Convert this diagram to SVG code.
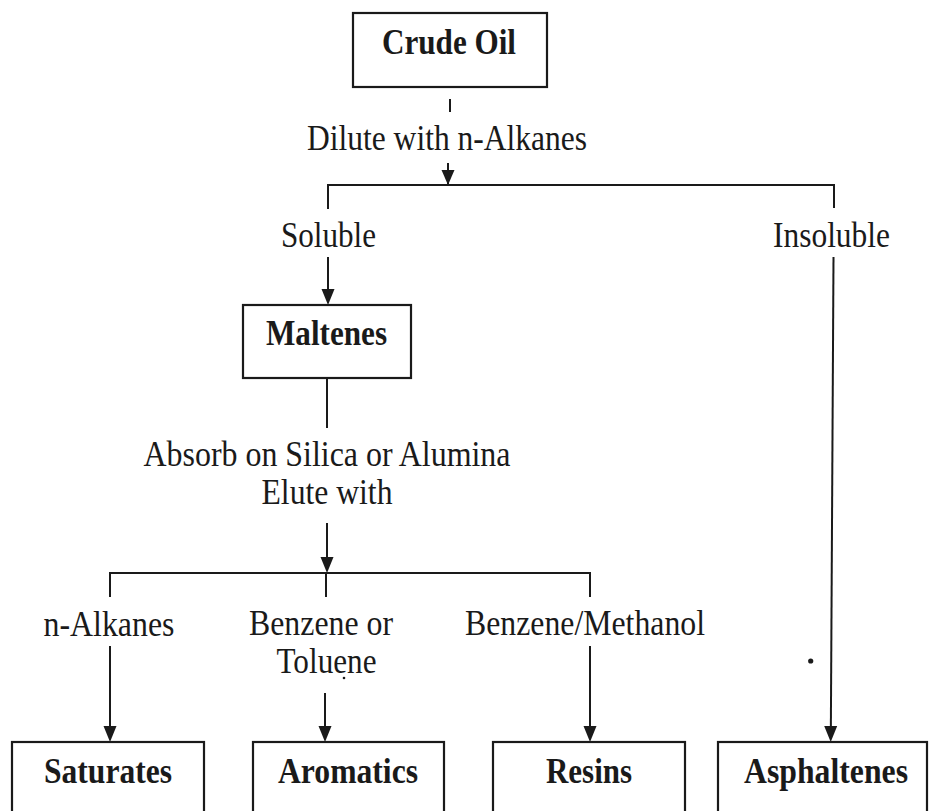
<svg xmlns="http://www.w3.org/2000/svg" width="929" height="811" viewBox="0 0 929 811">
<style>
  .box { fill: #ffffff; stroke: #1a1a1a; stroke-width: 2.2; }
  .lbl { font-family: "Liberation Serif", "Times New Roman", serif; font-size: 35px; fill: #1a1a1a; text-anchor: middle; }
  .bold { font-weight: bold; }
  .ln { stroke: #1a1a1a; stroke-width: 2; fill: none; }
  .head { fill: #1a1a1a; }
</style>
<rect width="929" height="811" fill="#ffffff"/>

<g id="connectors">
  <line class="ln" x1="450" y1="99" x2="450" y2="112"/>
  <line class="ln" x1="448" y1="163" x2="448" y2="184"/>
  <path class="head" d="M441.5,170 L454.5,170 L448,185 Z"/>
  <polyline class="ln" points="328,209 328,185 834,185 834,208"/>
  <line class="ln" x1="328" y1="257" x2="328" y2="302"/>
  <path class="head" d="M321.5,289 L334.5,289 L328,305 Z"/>
  <line class="ln" x1="833.5" y1="257" x2="830.8" y2="738"/>
  <path class="head" d="M824.2,726 L837.2,726 L830.7,742 Z"/>
  <line class="ln" x1="327" y1="378" x2="327" y2="428"/>
  <line class="ln" x1="327" y1="523" x2="327" y2="570"/>
  <path class="head" d="M320.5,557 L333.5,557 L327,573 Z"/>
  <polyline class="ln" points="110,597 110,573 590,573 590,597"/>
  <line class="ln" x1="326" y1="573" x2="326" y2="597"/>
  <line class="ln" x1="110" y1="646" x2="110" y2="738"/>
  <path class="head" d="M103.5,726 L116.5,726 L110,742 Z"/>
  <line class="ln" x1="325" y1="693" x2="325" y2="738"/>
  <path class="head" d="M318.5,726 L331.5,726 L325,742 Z"/>
  <line class="ln" x1="590" y1="646" x2="590" y2="738"/>
  <path class="head" d="M583.5,726 L596.5,726 L590,742 Z"/>
</g>

<g id="labels">
  <text class="lbl" x="447" y="150" textLength="280" lengthAdjust="spacingAndGlyphs">Dilute with n-Alkanes</text>
  <text class="lbl" x="328.5" y="247" textLength="95" lengthAdjust="spacingAndGlyphs">Soluble</text>
  <text class="lbl" x="831.5" y="247" textLength="117" lengthAdjust="spacingAndGlyphs">Insoluble</text>
  <text class="lbl" x="327" y="466" textLength="367" lengthAdjust="spacingAndGlyphs">Absorb on Silica or Alumina</text>
  <text class="lbl" x="327" y="504" textLength="131" lengthAdjust="spacingAndGlyphs">Elute with</text>
  <text class="lbl" x="109" y="636" textLength="131" lengthAdjust="spacingAndGlyphs">n-Alkanes</text>
  <text class="lbl" x="321" y="635" textLength="144" lengthAdjust="spacingAndGlyphs">Benzene or</text>
  <text class="lbl" x="326.5" y="673" textLength="100" lengthAdjust="spacingAndGlyphs">Toluene</text>
  <text class="lbl" x="585" y="635" textLength="240" lengthAdjust="spacingAndGlyphs">Benzene/Methanol</text>
  <circle cx="344" cy="678" r="1.3" fill="#1a1a1a"/>
  <circle cx="810.7" cy="661" r="2.6" fill="#1a1a1a"/>
</g>

<g id="node-crude-oil">
  <rect class="box" x="353" y="13" width="194" height="74"/>
  <text class="lbl bold" x="449" y="54" textLength="134" lengthAdjust="spacingAndGlyphs">Crude Oil</text>
</g>
<g id="node-maltenes">
  <rect class="box" x="243" y="305" width="168" height="73"/>
  <text class="lbl bold" x="326.5" y="345" textLength="121" lengthAdjust="spacingAndGlyphs">Maltenes</text>
</g>
<g id="node-saturates">
  <rect class="box" x="12" y="742" width="192" height="90"/>
  <text class="lbl bold" x="108" y="783" textLength="128" lengthAdjust="spacingAndGlyphs">Saturates</text>
</g>
<g id="node-aromatics">
  <rect class="box" x="253" y="742" width="191" height="90"/>
  <text class="lbl bold" x="348" y="783" textLength="140" lengthAdjust="spacingAndGlyphs">Aromatics</text>
</g>
<g id="node-resins">
  <rect class="box" x="493" y="742" width="192" height="90"/>
  <text class="lbl bold" x="589" y="783" textLength="86" lengthAdjust="spacingAndGlyphs">Resins</text>
</g>
<g id="node-asphaltenes">
  <rect class="box" x="718" y="742" width="209" height="90"/>
  <text class="lbl bold" x="826" y="783" textLength="164" lengthAdjust="spacingAndGlyphs">Asphaltenes</text>
</g>
</svg>
